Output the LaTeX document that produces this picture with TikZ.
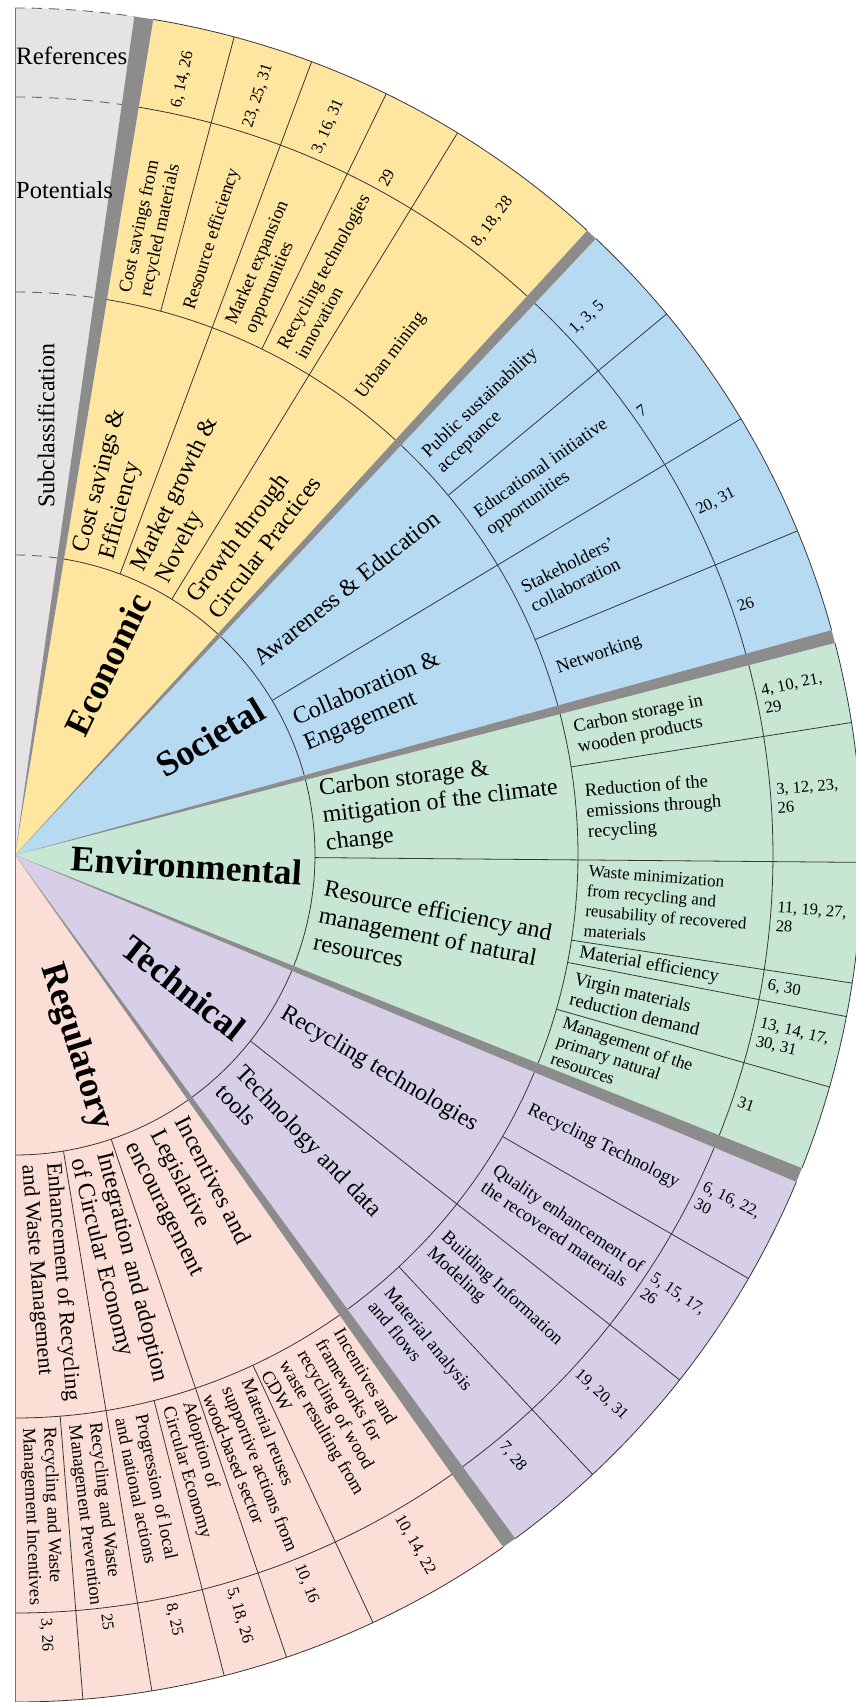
\documentclass[tikz,border=0pt]{standalone}
\usepackage{fontspec}
\setmainfont{Liberation Serif}
\usepackage{xcolor}

\definecolor{ecoyellow}{RGB}{254,230,160}
\definecolor{socblue}{RGB}{182,218,242}
\definecolor{envgreen}{RGB}{199,230,212}
\definecolor{techpurple}{RGB}{214,207,231}
\definecolor{regpink}{RGB}{251,222,214}
\definecolor{legendgray}{RGB}{230,227,228}
\definecolor{sepgray}{RGB}{140,140,140}
\definecolor{linegray}{RGB}{55,55,55}

% ring radii
\def\rcat{300pt}
\def\rsub{563pt}
\def\rpot{758pt}
\def\rout{847pt}

% filled pie wedge from the centre
\newcommand{\piefill}[3]{\fill[#1] (0,0) -- (#2:\rout) arc[start angle=#2, end angle=#3, radius=\rout] -- cycle;}
% ring arcs of one sector
\newcommand{\ringarcs}[2]{\foreach \rr in {\rcat,\rsub,\rpot,\rout} {\draw[cellline] (#1:\rr) arc[start angle=#1, end angle=#2, radius=\rr];}}
% radial cell border
\newcommand{\spoke}[2]{\draw[cellline] (#1:#2) -- (#1:\rout);}

\begin{document}
\begin{tikzpicture}[x=1pt, y=1pt,
        cellline/.style={draw=linegray, line width=0.8pt}, % cell borders
        dashline/.style={draw=black!60, line width=0.9pt, dash pattern=on 10pt off 7pt}, % legend rings
        catlabel/.style={font=\fontsize{36}{40}\selectfont\bfseries, inner sep=0pt, anchor=east},
        sublabel/.style={font=\fontsize{24}{27.5}\selectfont, inner sep=0pt, anchor=west, align=left},
        potlabel/.style={font=\fontsize{18.5}{21}\selectfont, inner sep=0pt, anchor=west, align=left},
        reflabel/.style={font=\fontsize{16.5}{19}\selectfont, inner sep=0pt, anchor=west, align=left},
        legendlabel/.style={font=\fontsize{25}{28}\selectfont, inner sep=0pt}
    ]

        \useasboundingbox (-15,-847) rectangle (840,855);

        % Sector fills
        \piefill{legendgray}{81.9}{90}
        \piefill{ecoyellow}{47.5}{80.6}
        \piefill{socblue}{15.4}{46.7}
        \piefill{envgreen}{-21.7}{14.5}
        \piefill{techpurple}{-53.8}{-22.7}
        \piefill{regpink}{-90}{-54.8}

        % Legend rings (dashed)
        \foreach \rr in {\rcat,\rsub,\rpot,\rout}
            \draw[dashline] (90:\rr) arc[start angle=90, end angle=81.9, radius=\rr];

        % Ring arcs
        \ringarcs{47.5}{80.6}
        \ringarcs{15.4}{46.7}
        \ringarcs{-21.7}{14.5}
        \ringarcs{-53.8}{-22.7}
        \ringarcs{-90}{-54.8}

        % Borders between subclassifications
        \foreach \a in {69.5,58.5,31,-0.5,-38.3,-71.3,-80.7}
            {\spoke{\a}{\rcat}}

        % Borders between potentials
        \foreach \a in {75,64,39.7,22.5,9,-8.7,-11,-15.9,-30,-47,-65,-75.7,-85.4}
            {\spoke{\a}{\rsub}}

        % Separators between sectors
        \foreach \a/\b in {80.6/81.9, 46.7/47.5, 14.5/15.4, -22.7/-21.7, -54.8/-53.8}
            \fill[sepgray] (0,0) -- (\a:\rout) -- (\b:\rout) -- cycle;

        % Left edge
        \draw[black!55, line width=0.9pt] (-90:\rout) -- (90:\rout);

        % Legend
        \node[legendlabel, anchor=west] (lg-ref) at (1,799) {References};
        \node[legendlabel, anchor=west, font=\fontsize{24.5}{28}\selectfont] (lg-pot) at (1,665) {Potentials};
        \node[legendlabel, rotate=90, font=\fontsize{24}{28}\selectfont] (lg-sub) at (31,429) {Subclassification};

        % Economic
        \node[catlabel, rotate=64.05] (eco) at (64.05:288pt) {Economic};
        \node[sublabel, rotate=75.05] (eco-s1) at (75.05:310pt) {Cost savings \&\\Efficiency};
        \node[sublabel, rotate=64] (eco-s2) at (64:310pt) {Market growth \&\\Novelty};
        \node[sublabel, rotate=53] (eco-s3) at (53:310pt) {Growth through\\Circular Practices};
        \node[potlabel, rotate=77.8] (eco-p1) at (77.8:573pt) {Cost savings from\\recycled materials};
        \node[potlabel, rotate=72.25] (eco-p2) at (72.25:573pt) {Resource efficiency};
        \node[potlabel, rotate=66.75] (eco-p3) at (66.75:573pt) {Market expansion\\opportunities};
        \node[potlabel, rotate=61.25] (eco-p4) at (61.25:573pt) {Recycling technologies\\innovation};
        \node[potlabel, rotate=53] (eco-p5) at (53:573pt) {Urban mining};
        \node[reflabel, rotate=77.8] (eco-r1) at (77.8:764pt) {6, 14, 26};
        \node[reflabel, rotate=72.25] (eco-r2) at (72.25:764pt) {23, 25, 31};
        \node[reflabel, rotate=66.75] (eco-r3) at (66.75:764pt) {3, 16, 31};
        \node[reflabel, rotate=61.25] (eco-r4) at (61.25:764pt) {29};
        \node[reflabel, rotate=53] (eco-r5) at (53:764pt) {8, 18, 28};

        % Societal
        \node[catlabel, rotate=31.05] (soc) at (31.05:288pt) {Societal};
        \node[sublabel, rotate=38.85] (soc-s1) at (38.85:310pt) {Awareness \& Education};
        \node[sublabel, rotate=23.2] (soc-s2) at (23.2:310pt) {Collaboration \&\\Engagement};
        \node[potlabel, rotate=43.2] (soc-p1) at (43.2:573pt) {Public sustainability\\acceptance};
        \node[potlabel, rotate=35.35] (soc-p2) at (35.35:573pt) {Educational initiative\\opportunities};
        \node[potlabel, rotate=26.75] (soc-p3) at (26.75:573pt) {Stakeholders’\\collaboration};
        \node[potlabel, rotate=18.95] (soc-p4) at (18.95:573pt) {Networking};
        \node[reflabel, rotate=43.2] (soc-r1) at (43.2:764pt) {1, 3, 5};
        \node[reflabel, rotate=35.35] (soc-r2) at (35.35:764pt) {7};
        \node[reflabel, rotate=26.75] (soc-r3) at (26.75:764pt) {20, 31};
        \node[reflabel, rotate=18.95] (soc-r4) at (18.95:764pt) {26};

        % Environmental
        \node[catlabel, rotate=-3.6] (env) at (-3.6:288pt) {Environmental};
        \node[sublabel, rotate=7] (env-s1) at (7:310pt) {Carbon storage \&\\mitigation of the climate\\change};
        \node[sublabel, rotate=-11.1] (env-s2) at (-11.1:310pt) {Resource efficiency and\\management of natural\\resources};
        \node[potlabel, rotate=11.75] (env-p1) at (11.75:573pt) {Carbon storage in\\wooden products};
        \node[potlabel, rotate=4.25] (env-p2) at (4.25:573pt) {Reduction of the\\emissions through\\recycling};
        \node[potlabel, rotate=-4.6, font=\fontsize{17}{20}\selectfont] (env-p3) at (-4.6:573pt) {Waste minimization\\from recycling and\\reusability of recovered\\materials};
        \node[potlabel, rotate=-9.85] (env-p4) at (-9.85:573pt) {Material efficiency};
        \node[potlabel, rotate=-13.45] (env-p5) at (-13.45:573pt) {Virgin materials\\reduction demand};
        \node[potlabel, rotate=-18.8, font=\fontsize{17.5}{19}\selectfont] (env-p6) at (-18.8:573pt) {Management of the\\primary natural\\resources};
        \node[reflabel, rotate=11.75] (env-r1) at (11.75:764pt) {4, 10, 21,\\29};
        \node[reflabel, rotate=4.25] (env-r2) at (4.25:764pt) {3, 12, 23,\\26};
        \node[reflabel, rotate=-4.6] (env-r3) at (-4.6:764pt) {11, 19, 27,\\28};
        \node[reflabel, rotate=-9.85] (env-r4) at (-9.85:764pt) {6, 30};
        \node[reflabel, rotate=-13.45] (env-r5) at (-13.45:764pt) {13, 14, 17,\\30, 31};
        \node[reflabel, rotate=-18.8] (env-r6) at (-18.8:764pt) {31};

        % Technical
        \node[catlabel, rotate=-38.25] (tech) at (-38.25:288pt) {Technical};
        \node[sublabel, rotate=-30.5] (tech-s1) at (-30.5:310pt) {Recycling technologies};
        \node[sublabel, rotate=-46.05] (tech-s2) at (-46.05:310pt) {Technology and data\\tools};
        \node[potlabel, rotate=-26.35] (tech-p1) at (-26.35:573pt) {Recycling Technology};
        \node[potlabel, rotate=-34.15] (tech-p2) at (-34.15:573pt) {Quality enhancement of\\the recovered materials};
        \node[potlabel, rotate=-42.65] (tech-p3) at (-42.65:573pt) {Building Information\\Modeling};
        \node[potlabel, rotate=-50.4] (tech-p4) at (-50.4:573pt) {Material analysis\\and flows};
        \node[reflabel, rotate=-26.35] (tech-r1) at (-26.35:764pt) {6, 16, 22,\\30};
        \node[reflabel, rotate=-34.15] (tech-r2) at (-34.15:764pt) {5, 15, 17,\\26};
        \node[reflabel, rotate=-42.65] (tech-r3) at (-42.65:764pt) {19, 20, 31};
        \node[reflabel, rotate=-50.4] (tech-r4) at (-50.4:764pt) {7, 28};

        % Regulatory
        \node[catlabel, rotate=-72.4] (reg) at (-72.4:288pt) {Regulatory};
        \node[sublabel, rotate=-63.05] (reg-s1) at (-63.05:310pt) {Incentives and\\Legislative\\encouragement};
        \node[sublabel, rotate=-76] (reg-s2) at (-76:310pt) {Integration and adoption\\of Circular Economy};
        \node[sublabel, rotate=-85.35, font=\fontsize{22}{25}\selectfont] (reg-s3) at (-85.35:310pt) {Enhancement of Recycling\\and Waste Management};
        \node[potlabel, rotate=-59.9] (reg-p1) at (-59.9:573pt) {Incentives and\\frameworks for\\recycling of wood\\waste resulting from\\CDW};
        \node[potlabel, rotate=-68.2] (reg-p2) at (-68.2:573pt) {Material reuses\\supportive actions from\\wood-based sector};
        \node[potlabel, rotate=-73.55] (reg-p3) at (-73.55:573pt) {Adoption of\\Circular Economy};
        \node[potlabel, rotate=-78.25] (reg-p4) at (-78.25:573pt) {Progression of local\\and national actions};
        \node[potlabel, rotate=-83.1] (reg-p5) at (-83.1:573pt) {Recycling and Waste\\Management Prevention};
        \node[potlabel, rotate=-87.7] (reg-p6) at (-87.7:573pt) {Recycling and Waste\\Management Incentives};
        \node[reflabel, rotate=-59.9] (reg-r1) at (-59.9:764pt) {10, 14, 22};
        \node[reflabel, rotate=-68.2] (reg-r2) at (-68.2:764pt) {10, 16};
        \node[reflabel, rotate=-73.55] (reg-r3) at (-73.55:764pt) {5, 18, 26};
        \node[reflabel, rotate=-78.25] (reg-r4) at (-78.25:764pt) {8, 25};
        \node[reflabel, rotate=-83.1] (reg-r5) at (-83.1:764pt) {25};
        \node[reflabel, rotate=-87.7] (reg-r6) at (-87.7:764pt) {3, 26};

    \end{tikzpicture}
\end{document}
